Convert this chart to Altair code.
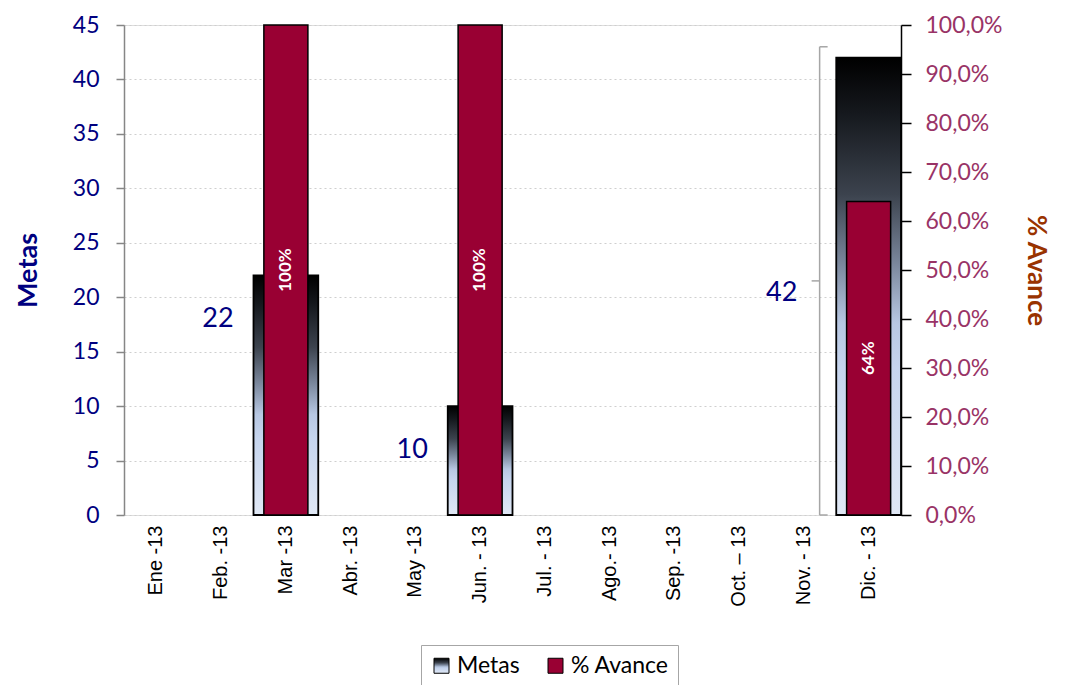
import altair as alt
import pandas as pd

meses = ["Ene -13", "Feb. -13", "Mar -13", "Abr. -13", "May -13", "Jun. - 13",
         "Jul. - 13", "Ago.- 13", "Sep. -13", "Oct. – 13", "Nov. - 13", "Dic. - 13"]
metas = [None, None, 22, None, None, 10, None, None, None, None, None, 42]
avance = [None, None, 1.0, None, None, 1.0, None, None, None, None, None, 0.64]
con_llave = ["Dic. - 13"]
series = ["Metas", "% Avance"]

df = pd.DataFrame({"mes": meses, "metas": metas, "avance": avance})
df["llave"] = df["mes"].isin(con_llave)

NAVY = "#000080"
ROSE = "#993366"
BROWN = "#993300"
CRIMSON = "#990033"
FONT = "Lato"

grad_expr = (
    "{gradient:'linear',x1:0,y1:0,x2:0,y2:1,stops:["
    "{offset:0,color:'#000000'},{offset:0.12,color:'#15181d'},"
    "{offset:0.3,color:'#3c434e'},{offset:0.45,color:'#7a879c'},"
    "{offset:0.58,color:'#b7c7e2'},{offset:0.68,color:'#c6d5ee'},"
    "{offset:1,color:'#e0e8f5'}]}"
)

color_scale = alt.Scale(domain=series, range=[alt.ExprRef(grad_expr), CRIMSON])
legend = alt.Legend(
    title=None, orient="none", legendX=297, legendY=620, direction="horizontal",
    strokeColor="#a6a6a6", fillColor="white", padding=9,
    labelFont=FONT, labelFontSize=23, labelColor="black",
    symbolType="square", symbolSize=225, symbolStrokeColor="black",
    symbolStrokeWidth=1, columnPadding=24, labelOffset=4,
)

x_enc = alt.X(
    "mes:N", sort=meses,
    scale=alt.Scale(domain=meses, paddingInner=0, paddingOuter=0),
    axis=alt.Axis(title=None, labelAngle=270, labelFont="Liberation Sans",
                  labelFontSize=20, labelColor="black", labelPadding=10,
                  domain=False, ticks=False, grid=False),
)

left_axis = alt.Axis(
    title="Metas", values=list(range(0, 46, 5)), titleFont=FONT, titleFontSize=27,
    titleFontWeight="bold", titleColor=NAVY, titlePadding=30,
    labelFont=FONT, labelFontSize=23, labelColor=NAVY, labelPadding=17,
    domainColor="#868686", domainWidth=1.5, tickColor="#868686", tickSize=8,
    tickWidth=1.5, grid=True, gridColor="#cfcfcf", gridDash=[2, 3],
)
right_axis = alt.Axis(
    title="% Avance", orient="right", values=[i / 10 for i in range(11)],
    labelExpr="replace(format(datum.value, '.1%'), '.', ',')",
    titleFont=FONT, titleFontSize=26, titleFontWeight="bold", titleColor=BROWN,
    titlePadding=20, labelFont=FONT, labelFontSize=23, labelColor=ROSE,
    labelPadding=14, domainColor="black", domainWidth=1.5, tickColor="black",
    tickSize=10, tickWidth=1.5, grid=False,
)

y_m = alt.Scale(domain=[0, 45], nice=False)
y_a = alt.Scale(domain=[0, 1], nice=False)

base = alt.Chart(df)

metas_bars = base.transform_filter("isValid(datum.metas)").transform_calculate(
    serie="'Metas'"
).mark_bar(stroke="black", strokeWidth=1.8).encode(
    x=x_enc,
    y=alt.Y("metas:Q", scale=y_m, axis=left_axis),
    color=alt.Color("serie:N", scale=color_scale, legend=legend),
)

metas_text = base.transform_filter(
    "isValid(datum.metas) && !datum.llave"
).transform_calculate(ly="datum.metas - 4").mark_text(
    font=FONT, fontSize=27, color=NAVY, dx=-68
).encode(
    x=x_enc,
    y=alt.Y("ly:Q", scale=y_m, axis=left_axis),
    text=alt.Text("metas:Q"),
)

llave = base.transform_filter("isValid(datum.metas) && datum.llave").transform_calculate(
    top="datum.metas + 1", mid="(datum.metas + 1) / 2"
)
llave_v = llave.mark_rule(color="#a6a6a6", strokeWidth=1.5, xOffset=-49).encode(
    x=x_enc, y=alt.Y("top:Q", scale=y_m, axis=left_axis), y2=alt.datum(0)
)
llave_top = llave.mark_rule(color="#a6a6a6", strokeWidth=1.5, xOffset=-49,
                            x2Offset=-41).encode(
    x=x_enc, x2=alt.X2("mes:N"), y=alt.Y("top:Q", scale=y_m, axis=left_axis)
)
llave_bot = llave.mark_rule(color="#a6a6a6", strokeWidth=1.5, xOffset=-49,
                            x2Offset=-41).encode(
    x=x_enc, x2=alt.X2("mes:N"), y=alt.datum(0)
)
llave_mid = llave.mark_rule(color="#a6a6a6", strokeWidth=1.5, xOffset=-57,
                            x2Offset=-49).encode(
    x=x_enc, x2=alt.X2("mes:N"), y=alt.Y("mid:Q", scale=y_m, axis=left_axis)
)
llave_text = llave.mark_text(font=FONT, fontSize=27, color=NAVY, dx=-87, dy=12).encode(
    x=x_enc, y=alt.Y("mid:Q", scale=y_m, axis=left_axis), text=alt.Text("metas:Q")
)

avance_bars = base.transform_filter("isValid(datum.avance)").transform_calculate(
    serie="'% Avance'"
).mark_bar(stroke="black", strokeWidth=1.5, width={"band": 0.68}).encode(
    x=x_enc,
    y=alt.Y("avance:Q", scale=y_a, axis=right_axis),
    color=alt.Color("serie:N", scale=color_scale, legend=legend),
)
avance_text = base.transform_filter("isValid(datum.avance)").transform_calculate(
    my="datum.avance / 2"
).mark_text(font=FONT, fontSize=17, fontWeight="bold", color="white", angle=270).encode(
    x=x_enc,
    y=alt.Y("my:Q", scale=y_a, axis=right_axis),
    text=alt.Text("avance:Q", format=".0%"),
)

left = alt.layer(metas_bars, metas_text, llave_v, llave_top, llave_bot, llave_mid, llave_text)
right = alt.layer(avance_bars, avance_text)

chart = alt.layer(left, right).resolve_scale(y="independent").properties(
    width=777, height=490,
    padding={"left": 6, "top": 6, "right": 8, "bottom": 0},
).configure_view(stroke=None).configure(background="white")

chart.save("out.html", embed_options={"renderer": "svg", "actions": False})
